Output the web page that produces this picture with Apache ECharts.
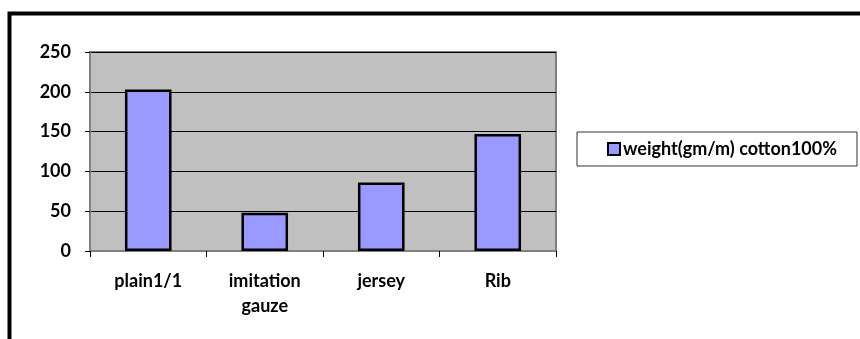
<!DOCTYPE html>
<html>
<head>
<meta charset="utf-8">
<script src="https://cdn.jsdelivr.net/npm/echarts@6/dist/echarts.min.js"></script>
<style>
  html, body { margin: 0; padding: 0; background: #fff; }
  #chart { width: 860px; height: 339px; }
</style>
</head>
<body>
<div id="chart"></div>
<script>
// Fabric types and their measured weight
const categories = ['plain1/1', 'imitation\ngauze', 'jersey', 'Rib'];
const weightValues = [203, 48, 86, 147];
const seriesName = 'weight(gm/m) cotton100%';
const yTicks = [0, 50, 100, 150, 200, 250];

const font = 'Lato, "Open Sans", sans-serif';
const chart = echarts.init(document.getElementById('chart'));

chart.setOption({
  animation: false,
  backgroundColor: '#fff',
  graphic: [
    // heavy outer frame along top and left edges
    { type: 'rect', shape: { x: 9.5, y: 13.5, width: 860, height: 340 },
      style: { fill: 'none', stroke: '#000', lineWidth: 4 }, silent: true }
  ],
  grid: {
    left: 90, top: 52, right: 304, bottom: 88,
    show: true, backgroundColor: '#C0C0C0', borderColor: '#808080', borderWidth: 2
  },
  legend: {
    left: 577, top: 132,
    data: [{ name: seriesName, icon: 'rect' }],
    itemWidth: 12, itemHeight: 12, itemGap: 3,
    padding: [8, 20, 8, 30],
    backgroundColor: '#fff', borderColor: '#333', borderWidth: 1,
    textStyle: { fontFamily: font, fontWeight: 'bold', fontSize: 18, color: '#000', padding: [0, 0, 0, -2] },
    itemStyle: { borderColor: '#000', borderWidth: 2 }
  },
  xAxis: {
    type: 'category',
    data: categories,
    axisLine: { show: true, lineStyle: { color: '#808080', width: 2 } },
    axisTick: { show: true, alignWithLabel: false, length: 6, lineStyle: { color: '#000' } },
    axisLabel: { fontFamily: font, fontWeight: 'bold', fontSize: 18, color: '#000', margin: 18, lineHeight: 25 }
  },
  yAxis: {
    type: 'value',
    min: yTicks[0], max: yTicks[yTicks.length - 1], interval: 50,
    axisLine: { show: true, lineStyle: { color: '#808080', width: 2 } },
    axisTick: { show: true, length: 5, lineStyle: { color: '#000' } },
    axisLabel: { fontFamily: font, fontWeight: 'bold', fontSize: 18, color: '#000', margin: 19 },
    splitLine: { show: true, lineStyle: { color: '#000', width: 1 } }
  },
  series: [{
    name: seriesName,
    type: 'bar',
    data: weightValues,
    barWidth: '40%',
    itemStyle: { color: '#9999FF', borderColor: '#000', borderWidth: 2.5 }
  }]
});
</script>
</body>
</html>
